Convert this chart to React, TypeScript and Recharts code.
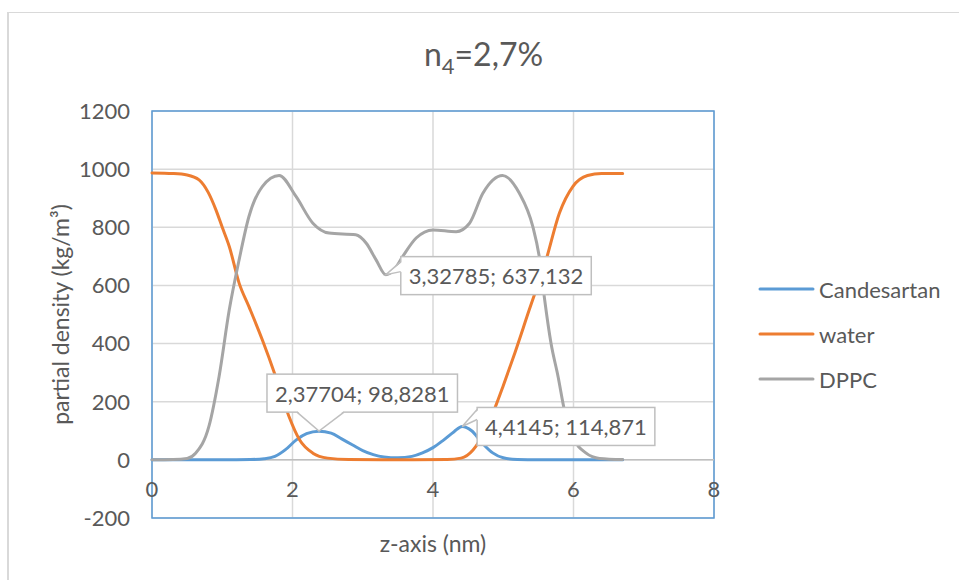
import {
  LineChart,
  Line,
  XAxis,
  YAxis,
  CartesianGrid,
  Legend,
  ReferenceLine,
  ReferenceArea,
  ReferenceDot,
} from "recharts"

// density profiles along the membrane normal (nm, kg/m³)
const candesartanZ = [0, 0.5, 1.0, 1.4, 1.6, 1.75, 1.9, 2.05, 2.2, 2.37704, 2.55, 2.7, 2.85, 3.0, 3.15, 3.3, 3.5, 3.7, 3.85, 4.0, 4.15, 4.3, 4.4145, 4.55, 4.7, 4.85, 5.0, 5.2, 5.5, 6.0, 6.7]
const candesartanRho = [0, 0, 0, 1, 4, 12, 35, 68, 90, 98.8281, 92, 72, 52, 32, 18, 10, 7, 12, 24, 42, 68, 97, 114.871, 100, 58, 24, 7, 1, 0, 0, 0]

const waterZ = [0, 0.3, 0.5, 0.67, 0.8, 0.91, 1.0, 1.1, 1.24, 1.38, 1.57, 1.76, 1.95, 2.1, 2.29, 2.5, 2.8, 3.5, 4.2, 4.4, 4.57, 4.76, 4.9, 5.0, 5.14, 5.37, 5.61, 5.8, 5.99, 6.2, 6.4, 6.7]
const waterRho = [987, 985, 980, 963, 920, 860, 800, 734, 608, 527, 413, 287, 149, 69, 23, 6, 1, 0, 1, 6, 34, 110, 190, 255, 350, 516, 688, 849, 940, 978, 985, 985]

const dppcZ = [0, 0.3, 0.5, 0.62, 0.81, 0.955, 1.1, 1.24, 1.38, 1.57, 1.81, 2.05, 2.29, 2.52, 2.9, 3.05, 3.19, 3.32785, 3.45, 3.57, 3.76, 4.0, 4.33, 4.52, 4.71, 4.99, 5.23, 5.42, 5.52, 5.59, 5.68, 5.78, 5.87, 5.99, 6.18, 6.37, 6.7]
const dppcRho = [0, 1, 5, 23, 115, 287, 516, 688, 837, 940, 978, 906, 814, 780, 774, 745, 688, 637.132, 655, 700, 763, 791, 785, 814, 917, 978, 917, 803, 688, 550, 401, 287, 172, 80, 23, 5, 1]

const zTicks = [0, 2, 4, 6, 8]
const rhoTicks = [-200, 0, 200, 400, 600, 800, 1000, 1200]

const FONT = "Lato, 'Open Sans', sans-serif"
const INK = "#595959"

const toPoints = (z: number[], rho: number[]) => z.map((v, i) => ({ z: v, rho: rho[i] }))

const series = [
  { name: "Candesartan", color: "#5b9bd5", data: toPoints(candesartanZ, candesartanRho) },
  { name: "water", color: "#ed7d31", data: toPoints(waterZ, waterRho) },
  { name: "DPPC", color: "#a5a5a5", data: toPoints(dppcZ, dppcRho) },
]

// data labels: which series/point, and where the box sits relative to it
const callouts = [
  { s: 0, i: candesartanZ.indexOf(2.37704), side: "above" },
  { s: 2, i: dppcZ.indexOf(3.32785), side: "right" },
  { s: 0, i: candesartanZ.indexOf(4.4145), side: "rightUp" },
]

const comma = (n: number) => String(n).replace(".", ",")

let ctx: CanvasRenderingContext2D | null = null
function measure(text: string, font: string) {
  if (!ctx) ctx = document.createElement("canvas").getContext("2d")
  if (!ctx) return text.length * 11
  ctx.font = font
  return ctx.measureText(text).width
}

function Callout({ cx, cy, text, side }: any) {
  const w = measure(text, "22px Lato") + 16
  const h = 38
  let bx: number, by: number, p1: number[], p2: number[], c1: number[], c2: number[]
  if (side === "above") {
    bx = cx - 52
    by = cy - 57
    p1 = [cx - 22, by + h]
    p2 = [cx + 25, by + h]
    c1 = [p1[0], p1[1] - 1.5]
    c2 = [p2[0], p2[1] - 1.5]
  } else if (side === "right") {
    bx = cx + 15
    by = cy - 18
    p1 = [bx, cy - 13]
    p2 = [bx, cy - 3]
    c1 = [bx + 1.5, p1[1]]
    c2 = [bx + 1.5, p2[1]]
  } else {
    bx = cx + 15
    by = cy - 19
    p1 = [bx, by + 2]
    p2 = [bx, by + 12]
    c1 = [bx + 1.5, p1[1]]
    c2 = [bx + 1.5, p2[1]]
  }
  return (
    <g>
      <rect x={bx} y={by} width={w} height={h} fill="#fff" stroke="#bfbfbf" strokeWidth={1.5} />
      <polygon points={`${c1[0]},${c1[1]} ${cx},${cy} ${c2[0]},${c2[1]}`} fill="#fff" />
      <polyline points={`${p1[0]},${p1[1]} ${cx},${cy} ${p2[0]},${p2[1]}`} fill="none" stroke="#bfbfbf" strokeWidth={1.5} />
      <text x={bx + w / 2} y={by + h / 2} textAnchor="middle" dominantBaseline="central" fill={INK} fontSize={22} fontFamily={FONT}>
        {text}
      </text>
    </g>
  )
}

function XTick({ x, y, payload }: any) {
  // axis labels sit next to the zero line, inside the plot
  return (
    <text x={x} y={y - 38} textAnchor="middle" dominantBaseline="central" fill={INK} fontSize={22} fontFamily={FONT}>
      {payload.value}
    </text>
  )
}

function LegendBox() {
  return (
    <svg width={200} height={130}>
      {series.map((s, k) => (
        <g key={s.name} transform={`translate(0, ${20 + k * 45})`}>
          <line x1={2} x2={55} y1={0} y2={0} stroke={s.color} strokeWidth={3} strokeLinecap="round" />
          <text x={61} y={0} dominantBaseline="central" fill={INK} fontSize={22} fontFamily={FONT}>
            {s.name}
          </text>
        </g>
      ))}
    </svg>
  )
}

export default function App() {
  return (
    <div style={{ position: "absolute", left: 0, top: 0, width: 959, height: 580, background: "#fff", fontFamily: FONT }}>
      <div
        style={{
          position: "absolute",
          left: 7,
          top: 12,
          width: 960,
          height: 580,
          borderLeft: "2px solid #d9d9d9",
          borderTop: "1px solid #d9d9d9",
        }}
      />
      <div style={{ position: "absolute", left: 8, width: 951, top: 34, textAlign: "center", fontSize: 32, lineHeight: "40px", color: INK }}>
        n<span style={{ fontSize: 22, position: "relative", top: 8 }}>4</span>=2,7%
      </div>
      <div style={{ position: "absolute", left: 152, width: 562, top: 529, textAlign: "center", fontSize: 23, lineHeight: "28px", color: INK }}>
        z-axis (nm)
      </div>
      <div style={{ position: "absolute", left: 0, top: 0 }}>
        <LineChart width={959} height={580} margin={{ top: 111, right: 245, bottom: 32, left: 20 }}>
          <CartesianGrid stroke="#d9d9d9" strokeWidth={1.5} />
          <XAxis
            dataKey="z"
            type="number"
            domain={[0, 8]}
            ticks={zTicks}
            allowDuplicatedCategory={false}
            axisLine={false}
            tickLine={false}
            height={30}
            tick={<XTick />}
            interval={0}
          />
          <YAxis
            type="number"
            domain={[-200, 1200]}
            ticks={rhoTicks}
            axisLine={false}
            tickLine={false}
            width={132}
            interval={0}
            tickMargin={16}
            tick={{ fill: INK, fontSize: 22, fontFamily: FONT }}
            label={({ viewBox }: any) => {
              const cx = viewBox.x + 40
              const cy = viewBox.y + viewBox.height / 2
              return (
                <text
                  x={cx}
                  y={cy}
                  transform={`rotate(-90, ${cx}, ${cy})`}
                  textAnchor="middle"
                  dominantBaseline="central"
                  fill={INK}
                  fontSize={23}
                  fontFamily={FONT}
                >
                  partial density (kg/m³)
                </text>
              )
            }}
          />
          <ReferenceLine y={0} stroke="#bfbfbf" strokeWidth={1.5} />
          <ReferenceArea x1={0} x2={8} y1={-200} y2={1200} fill="none" stroke="#5b9bd5" strokeWidth={1.5} />
          {series.map((s) => (
            <Line
              key={s.name}
              data={s.data}
              dataKey="rho"
              name={s.name}
              type="monotone"
              stroke={s.color}
              strokeWidth={3}
              strokeLinecap="round"
              dot={false}
              activeDot={false}
              isAnimationActive={false}
            />
          ))}
          {callouts.map((c) => {
            const pt = series[c.s].data[c.i]
            return (
              <ReferenceDot
                key={`${c.s}-${c.i}`}
                x={pt.z}
                y={pt.rho}
                r={0}
                shape={(p: any) => <Callout cx={p.cx} cy={p.cy} side={c.side} text={`${comma(pt.z)}; ${comma(pt.rho)}`} />}
              />
            )
          })}
          <Legend
            layout="vertical"
            align="center"
            verticalAlign="middle"
            content={<LegendBox />}
            wrapperStyle={{ position: "absolute", left: 758, top: 269, width: 200 }}
          />
        </LineChart>
      </div>
    </div>
  )
}
